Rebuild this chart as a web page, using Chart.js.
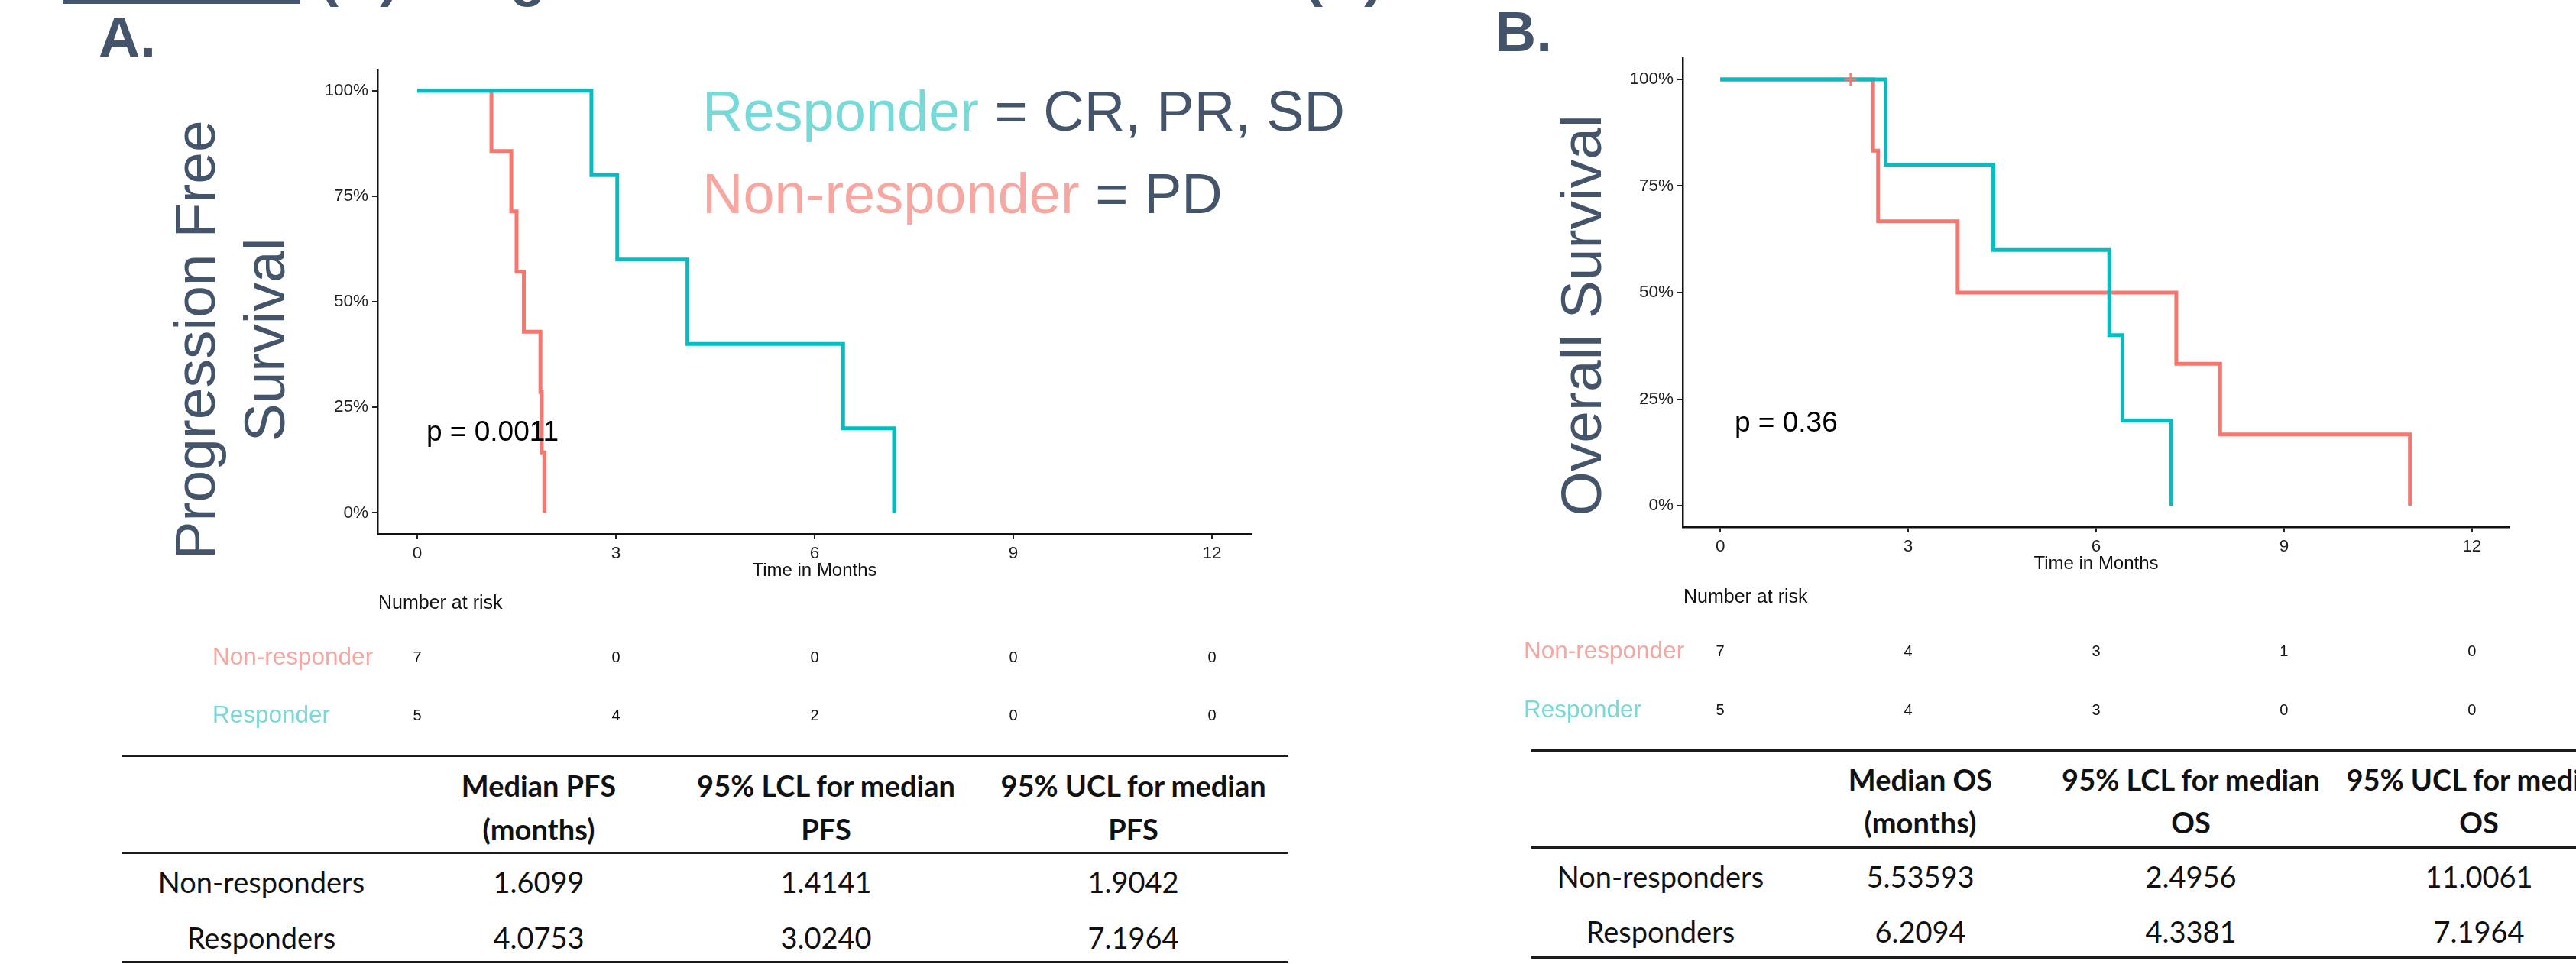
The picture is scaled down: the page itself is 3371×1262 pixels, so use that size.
<!DOCTYPE html>
<html>
<head>
<meta charset="utf-8">
<script src="https://cdn.jsdelivr.net/npm/chart.js@4.4.0/dist/chart.umd.min.js"></script>
<style>
html, body { margin: 0; padding: 0; background: #fff; }
body { width: 3371px; height: 1262px; overflow: hidden; position: relative; }
canvas { position: absolute; top: 0; }
.rule { position: absolute; height: 3px; background: #1c1c1c; }
.cell { position: absolute; transform: translate(-50%, -50%); white-space: nowrap;
        font-family: Lato, 'Noto Sans', sans-serif; font-size: 38px; color: #111; line-height: 1; }
.cell.b { font-weight: bold; }
</style>
</head>
<body>
<div class="rule" style="left:82px;top:0;width:311px;height:5px;background:#44546a"></div>
<canvas id="kmA" width="1820" height="960" style="left:0"></canvas>
<canvas id="kmB" width="1671" height="960" style="left:1700px"></canvas>
<div id="tables"></div>
<script>
// axes
const X_TICKS = [0, 3, 6, 9, 12];
const Y_TICKS = [0, 0.25, 0.5, 0.75, 1];
const GROUPS = ['Non-responder', 'Responder'];

// A. progression free survival (time in months, survival fraction)
const pfsNonTime  = [0, 1.12, 1.42, 1.50, 1.61, 1.86, 1.88, 1.92];
const pfsNonSurv  = [1, 0.857, 0.714, 0.571, 0.429, 0.286, 0.143, 0];
const pfsRespTime = [0, 2.63, 3.02, 4.08, 6.43, 7.20];
const pfsRespSurv = [1, 0.8, 0.6, 0.4, 0.2, 0];
const pfsRiskNon  = [7, 0, 0, 0, 0];
const pfsRiskResp = [5, 4, 2, 0, 0];

// B. overall survival
const osNonTime    = [0, 2.44, 2.52, 3.79, 7.28, 7.98, 11.01];
const osNonSurv    = [1, 0.833, 0.667, 0.5, 0.333, 0.167, 0];
const osNonCensorT = [2.08];
const osNonCensorS = [1];
const osRespTime   = [0, 2.64, 4.36, 6.21, 6.42, 7.20];
const osRespSurv   = [1, 0.8, 0.6, 0.4, 0.2, 0];
const osRiskNon    = [7, 4, 3, 1, 0];
const osRiskResp   = [5, 4, 3, 0, 0];

// summary tables
const ROW_NAMES = ['Non-responders', 'Responders'];
const pfsHeader = [['Median PFS', '(months)'], ['95% LCL for median', 'PFS'], ['95% UCL for median', 'PFS']];
const pfsRows   = [['1.6099', '1.4141', '1.9042'], ['4.0753', '3.0240', '7.1964']];
const osHeader  = [['Median OS', '(months)'], ['95% LCL for median', 'OS'], ['95% UCL for median', 'OS']];
const osRows    = [['5.53593', '2.4956', '11.0061'], ['6.2094', '4.3381', '7.1964']];

const TEAL = '#00BFC4', SALMON = '#F8766D';
const TEAL_TXT = '#78d9d9', SALMON_TXT = '#f7a7a1', SLATE = '#44546a';
const SANS = '"Liberation Sans", Arial, sans-serif';

const pts = (t, s) => t.map((v, i) => ({ x: v, y: s[i] }));

function txt(g, s, x, y, font, color, align, base) {
  g.font = font; g.fillStyle = color;
  g.textAlign = align || 'left'; g.textBaseline = base || 'alphabetic';
  g.fillText(s, x, y);
}

function rotTxt(g, s, x, y, font, color) {
  g.save();
  g.translate(x, y); g.rotate(-Math.PI / 2);
  txt(g, s, 0, 0, font, color, 'center');
  g.restore();
}

// coloured pieces on one baseline
function pieces(g, parts, x, y, font) {
  g.font = font;
  parts.forEach(([s, col]) => { txt(g, s, x, y, font, col); x += g.measureText(s).width; });
}

function drawPanel(c, cfg) {
  const g = c.ctx, o = cfg.ox, xs = c.scales.x;
  g.save();
  // slide title sits above the frame, only its descenders show
  txt(g, cfg.cutTitle[0], cfg.cutTitle[1] - o, -6, 'bold 75px ' + SANS, SLATE);
  txt(g, cfg.tag, cfg.tagPos[0] - o, cfg.tagPos[1], 'bold 75px ' + SANS, SLATE);
  cfg.ytitle.forEach(([s, bx]) => rotTxt(g, s, bx - o, cfg.ytitleY, '75px ' + SANS, SLATE));
  if (cfg.legend) {
    pieces(g, [['Responder', TEAL_TXT], [' = CR, PR, SD', SLATE]], 919 - o, 171, '74px ' + SANS);
    pieces(g, [['Non-responder', SALMON_TXT], [' = PD', SLATE]], 919 - o, 279, '74px ' + SANS);
  }
  txt(g, cfg.p, cfg.pPos[0] - o, cfg.pPos[1], '37px ' + SANS, '#000');
  txt(g, 'Time in Months', (c.chartArea.left + c.chartArea.right) / 2, cfg.xtitleY, '24px ' + SANS, '#111', 'center', 'middle');
  txt(g, 'Number at risk', cfg.riskTitle[0] - o, cfg.riskTitle[1], '25px ' + SANS, '#111', 'left', 'middle');
  [cfg.riskNon, cfg.riskResp].forEach((row, r) => {
    const y = cfg.riskY[r];
    txt(g, GROUPS[r], cfg.riskLabelX - o, y, '31.5px ' + SANS, r ? TEAL_TXT : SALMON_TXT, 'left', 'middle');
    row.forEach((n, i) => txt(g, String(n), xs.getPixelForValue(X_TICKS[i]), y, '20px ' + SANS, '#111', 'center', 'middle'));
  });
  g.restore();
}

function kmChart(id, cfg) {
  const ctx = document.getElementById(id).getContext('2d');
  const tickFont = { family: SANS, size: 22.5 };
  const datasets = [];
  if (cfg.censorT) {
    datasets.push({ type: 'scatter', data: pts(cfg.censorT, cfg.censorS), pointStyle: 'cross',
                    pointRadius: 8, borderColor: SALMON, borderWidth: 2.5 });
  }
  datasets.push({ label: GROUPS[1], data: pts(cfg.respT, cfg.respS), borderColor: TEAL,
                  borderWidth: 5, stepped: 'before', pointRadius: 0, fill: false });
  datasets.push({ label: GROUPS[0], data: pts(cfg.nonT, cfg.nonS), borderColor: SALMON,
                  borderWidth: 5, stepped: 'before', pointRadius: 0, fill: false });

  return new Chart(ctx, {
    type: 'line',
    data: { datasets },
    options: {
      responsive: false,
      animation: false,
      devicePixelRatio: 1,
      layout: { padding: cfg.pad },
      plugins: { legend: { display: false }, tooltip: { enabled: false } },
      scales: {
        x: {
          type: 'linear', min: -0.6, max: 12.6,
          afterBuildTicks: s => { s.ticks = X_TICKS.map(v => ({ value: v })); },
          afterFit: s => { s.height = 81; },
          ticks: { font: tickFont, color: '#1e1e1e', padding: 5, maxRotation: 0, autoSkip: false },
          grid: { drawOnChartArea: false, tickLength: 7, color: '#222', lineWidth: 2 },
          border: { color: '#111', width: 2.5 }
        },
        y: {
          type: 'linear', min: -0.05, max: 1.05,
          afterBuildTicks: s => { s.ticks = Y_TICKS.map(v => ({ value: v })); },
          afterFit: s => { s.width = 114; },
          ticks: { font: tickFont, color: '#1e1e1e', padding: 5, callback: v => Math.round(v * 100) + '%' },
          grid: { drawOnChartArea: false, tickLength: 7, color: '#222', lineWidth: 2 },
          border: { color: '#111', width: 2.5 }
        }
      }
    },
    plugins: [{ id: 'annot', afterDraw: c => drawPanel(c, cfg) }]
  });
}

kmChart('kmA', {
  ox: 0, pad: { left: 380, right: 182, top: 91, bottom: 180 },
  nonT: pfsNonTime, nonS: pfsNonSurv, respT: pfsRespTime, respS: pfsRespSurv,
  cutTitle: ['(A) Progression Free Survival', 418],
  tag: 'A.', tagPos: [129, 74],
  ytitle: [['Progression Free', 281], ['Survival', 372]], ytitleY: 445,
  legend: true, p: 'p = 0.0011', pPos: [558, 577], xtitleY: 747,
  riskTitle: [495, 790], riskLabelX: 278, riskY: [861, 937],
  riskNon: pfsRiskNon, riskResp: pfsRiskResp
});

kmChart('kmB', {
  ox: 1700, pad: { left: 388, right: 87, top: 76, bottom: 189 },
  nonT: osNonTime, nonS: osNonSurv, respT: osRespTime, respS: osRespSurv,
  censorT: osNonCensorT, censorS: osNonCensorS,
  cutTitle: ['(B)', 1706],
  tag: 'B.', tagPos: [1956, 67],
  ytitle: [['Overall Survival', 2095]], ytitleY: 413,
  legend: false, p: 'p = 0.36', pPos: [2270, 565], xtitleY: 738,
  riskTitle: [2203, 782], riskLabelX: 1994, riskY: [853, 930],
  riskNon: osRiskNon, riskResp: osRiskResp
});

// three-rule summary tables
function buildTable(t) {
  const root = document.getElementById('tables');
  const add = (cls, style, text) => {
    const d = document.createElement('div');
    d.className = cls; d.setAttribute('style', style);
    if (text !== undefined) d.textContent = text;
    root.appendChild(d);
  };
  t.rules.forEach(y => add('rule', `left:${t.x0}px;width:${t.x1 - t.x0}px;top:${y - 1.5}px`));
  t.header.forEach((lines, j) => lines.forEach((s, k) =>
    add('cell b', `left:${t.cols[j + 1]}px;top:${t.headY[k]}px`, s)));
  t.rows.forEach((row, r) => {
    add('cell', `left:${t.cols[0]}px;top:${t.rowY[r]}px`, ROW_NAMES[r]);
    row.forEach((s, j) => add('cell', `left:${t.cols[j + 1]}px;top:${t.rowY[r]}px`, s));
  });
}

buildTable({ rules: [989, 1116, 1259], x0: 160, x1: 1686, cols: [342, 705, 1081, 1483],
             headY: [1028, 1085], rowY: [1154, 1227], header: pfsHeader, rows: pfsRows });
buildTable({ rules: [982, 1109, 1253], x0: 2004, x1: 3371, cols: [2173, 2513, 2867, 3244],
             headY: [1020, 1076], rowY: [1147, 1219], header: osHeader, rows: osRows });
</script>
</body>
</html>
